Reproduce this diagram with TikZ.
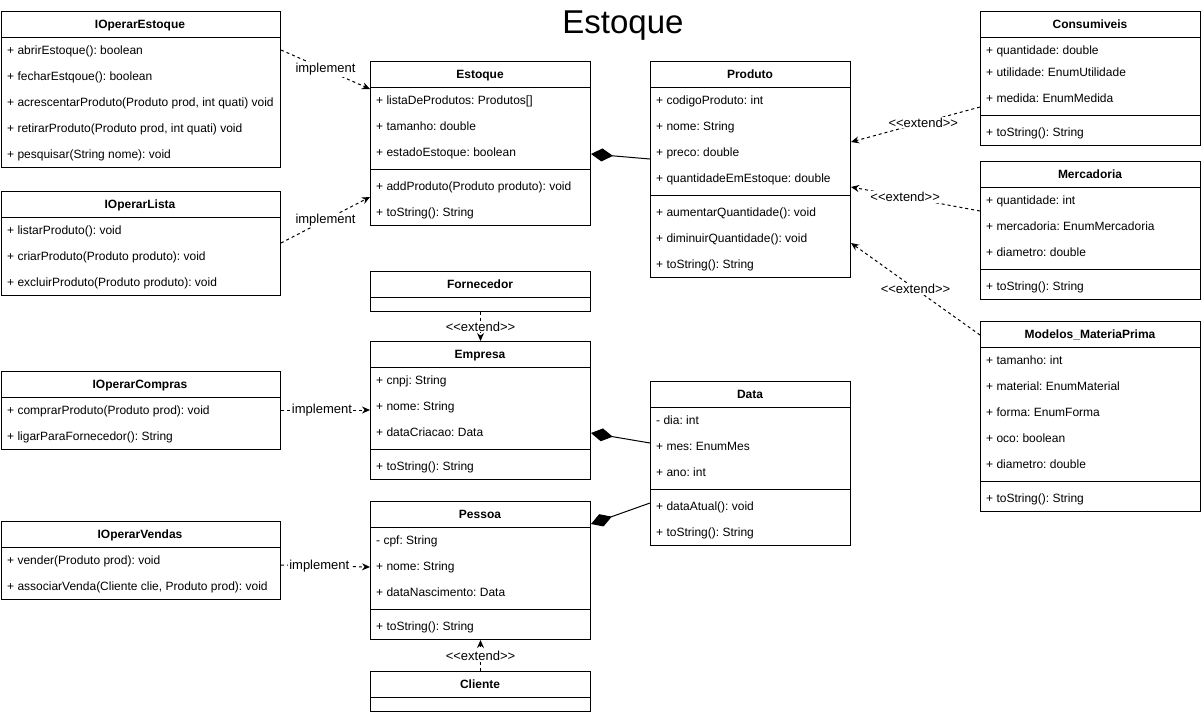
\documentclass[tikz,border=0pt]{standalone}
\usepackage{fontspec}
\setmainfont{Liberation Sans}[Ligatures=TeXOff]
\frenchspacing
\usetikzlibrary{arrows.meta}
\tikzset{%
  classbox/.style={
    draw,
    line width=1pt,
    rectangle,
    anchor=north west,
    inner sep=0pt
  },
  classname/.style={
    font=\fontsize{12}{14}\selectfont\bfseries,
    anchor=base,
    inner sep=0pt
  },
  member/.style={
    font=\fontsize{12}{14}\selectfont,
    anchor=base west,
    inner sep=0pt
  },
  realize/.style={
    line width=1pt,
    dash pattern=on 3pt off 3pt,
    -{Stealth[length=8pt,width=7pt]}
  },
  owns/.style={
    line width=1pt,
    {Diamond[length=22pt,width=13pt]}-
  },
  edgelabel/.style={
    font=\fontsize{13}{15}\selectfont,
    fill=white,
    inner sep=1pt
  },
}

\begin{document}
\begin{tikzpicture}[x=1pt, y=-1pt]
\useasboundingbox (0,0) rectangle (1201,713);
\node[font=\fontsize{33}{40}\selectfont, anchor=base] (title) at (623,33) {Estoque};

% interfaces
\node[classbox, minimum width=279pt, minimum height=156pt] (iEstoque) at (1,11) {};
\node[classname] at (140,28) {IOperarEstoque};
\draw[line width=1pt] (1,37) -- (280,37);
\foreach \y/\t in {50/{+ abrirEstoque(): boolean}, 76/{+ fecharEstqoue(): boolean},
    102/{+ acrescentarProduto(Produto prod, int quati) void},
    128/{+ retirarProduto(Produto prod, int quati) void}, 154/{+ pesquisar(String nome): void}}
  \node[member] at (7,\y+4) {\t};

\node[classbox, minimum width=279pt, minimum height=104pt] (iLista) at (1,191) {};
\node[classname] at (140,208) {IOperarLista};
\draw[line width=1pt] (1,217) -- (280,217);
\foreach \y/\t in {230/{+ listarProduto(): void}, 256/{+ criarProduto(Produto produto): void},
    282/{+ excluirProduto(Produto produto): void}}
  \node[member] at (7,\y+4) {\t};

\node[classbox, minimum width=279pt, minimum height=78pt] (iCompras) at (1,371) {};
\node[classname] at (140,388) {IOperarCompras};
\draw[line width=1pt] (1,397) -- (280,397);
\foreach \y/\t in {410/{+ comprarProduto(Produto prod): void}, 436/{+ ligarParaFornecedor(): String}}
  \node[member] at (7,\y+4) {\t};

\node[classbox, minimum width=279pt, minimum height=78pt] (iVendas) at (1,521) {};
\node[classname] at (140,538) {IOperarVendas};
\draw[line width=1pt] (1,547) -- (280,547);
\foreach \y/\t in {560/{+ vender(Produto prod): void}, 586/{+ associarVenda(Cliente clie, Produto prod): void}}
  \node[member] at (7,\y+4) {\t};

% middle column
\node[classbox, minimum width=220pt, minimum height=164pt] (estoque) at (370,61) {};
\node[classname] at (480,78) {Estoque};
\draw[line width=1pt] (370,87) -- (590,87);
\draw[line width=1pt] (370,169) -- (590,169);
\foreach \y/\t in {100/{+ listaDeProdutos: Produtos[]}, 126/{+ tamanho: double}, 152/{+ estadoEstoque: boolean},
    186/{+ addProduto(Produto produto): void}, 212/{+ toString(): String}}
  \node[member] at (376,\y+4) {\t};

\node[classbox, minimum width=220pt, minimum height=40pt] (fornecedor) at (370,271) {};
\node[classname] at (480,288) {Fornecedor};
\draw[line width=1pt] (370,297) -- (590,297);

\node[classbox, minimum width=220pt, minimum height=138pt] (empresa) at (370,341) {};
\node[classname] at (480,358) {Empresa};
\draw[line width=1pt] (370,367) -- (590,367);
\draw[line width=1pt] (370,449) -- (590,449);
\foreach \y/\t in {380/{+ cnpj: String}, 406/{+ nome: String}, 432/{+ dataCriacao: Data},
    466/{+ toString(): String}}
  \node[member] at (376,\y+4) {\t};

\node[classbox, minimum width=220pt, minimum height=138pt] (pessoa) at (370,501) {};
\node[classname] at (480,518) {Pessoa};
\draw[line width=1pt] (370,527) -- (590,527);
\draw[line width=1pt] (370,609) -- (590,609);
\foreach \y/\t in {540/{- cpf: String}, 566/{+ nome: String}, 592/{+ dataNascimento: Data},
    626/{+ toString(): String}}
  \node[member] at (376,\y+4) {\t};

\node[classbox, minimum width=220pt, minimum height=40pt] (cliente) at (370,671) {};
\node[classname] at (480,688) {Cliente};
\draw[line width=1pt] (370,697) -- (590,697);

\node[classbox, minimum width=200pt, minimum height=216pt] (produto) at (650,61) {};
\node[classname] at (750,78) {Produto};
\draw[line width=1pt] (650,87) -- (850,87);
\draw[line width=1pt] (650,195) -- (850,195);
\foreach \y/\t in {100/{+ codigoProduto: int}, 126/{+ nome: String}, 152/{+ preco: double},
    178/{+ quantidadeEmEstoque: double}, 212/{+ aumentarQuantidade(): void},
    238/{+ diminuirQuantidade(): void}, 264/{+ toString(): String}}
  \node[member] at (656,\y+4) {\t};

\node[classbox, minimum width=200pt, minimum height=164pt] (data) at (650,381) {};
\node[classname] at (750,398) {Data};
\draw[line width=1pt] (650,407) -- (850,407);
\draw[line width=1pt] (650,489) -- (850,489);
\foreach \y/\t in {420/{- dia: int}, 446/{+ mes: EnumMes}, 472/{+ ano: int},
    506/{+ dataAtual(): void}, 532/{+ toString(): String}}
  \node[member] at (656,\y+4) {\t};

% right column
\node[classbox, minimum width=220pt, minimum height=134pt] (consumiveis) at (980,11) {};
\node[classname] at (1090,28) {Consumiveis};
\draw[line width=1pt] (980,37) -- (1200,37);
\draw[line width=1pt] (980,115) -- (1200,115);
\foreach \y/\t in {50/{+ quantidade: double}, 72/{+ utilidade: EnumUtilidade}, 98/{+ medida: EnumMedida},
    132/{+ toString(): String}}
  \node[member] at (986,\y+4) {\t};

\node[classbox, minimum width=220pt, minimum height=138pt] (mercadoria) at (980,161) {};
\node[classname] at (1090,178) {Mercadoria};
\draw[line width=1pt] (980,187) -- (1200,187);
\draw[line width=1pt] (980,269) -- (1200,269);
\foreach \y/\t in {200/{+ quantidade: int}, 226/{+ mercadoria: EnumMercadoria}, 252/{+ diametro: double},
    286/{+ toString(): String}}
  \node[member] at (986,\y+4) {\t};

\node[classbox, minimum width=220pt, minimum height=190pt] (modelos) at (980,321) {};
\node[classname] at (1090,338) {Modelos\_MateriaPrima};
\draw[line width=1pt] (980,347) -- (1200,347);
\draw[line width=1pt] (980,481) -- (1200,481);
\foreach \y/\t in {360/{+ tamanho: int}, 386/{+ material: EnumMaterial}, 412/{+ forma: EnumForma},
    438/{+ oco: boolean}, 464/{+ diametro: double}, 498/{+ toString(): String}}
  \node[member] at (986,\y+4) {\t};

% connectors
\draw[realize] (iEstoque.east |- 0,50) -- node[edgelabel] {implement} (estoque.west |- 0,89);
\draw[realize] (iLista.east |- 0,243) -- node[edgelabel] {implement} (estoque.west |- 0,197);
\draw[realize] (iCompras.east |- 0,410) -- node[edgelabel, pos=0.46] {implement} (empresa.west |- 0,410);
\draw[realize] (iVendas.east |- 0,565) -- node[edgelabel, pos=0.43] {implement} (pessoa.west |- 0,567);
\draw[realize] (fornecedor.south) -- node[edgelabel] {<<extend>>} (empresa.north);
\draw[realize] (cliente.north) -- node[edgelabel] {<<extend>>} (pessoa.south);
\draw[realize] (consumiveis.west |- 0,107) -- node[edgelabel, pos=0.44] {<<extend>>} (produto.east |- 0,142);
\draw[realize] (mercadoria.west |- 0,211) -- node[edgelabel, pos=0.58] {<<extend>>} (produto.east |- 0,187);
\draw[realize] (modelos.west |- 0,335) -- node[edgelabel] {<<extend>>} (produto.east |- 0,243);

\draw[owns] (estoque.east |- 0,154) -- (produto.west |- 0,159);
\draw[owns] (empresa.east |- 0,433) -- (data.west |- 0,443);
\draw[owns] (pessoa.east |- 0,524) -- (data.west |- 0,503);
\end{tikzpicture}
\end{document}
